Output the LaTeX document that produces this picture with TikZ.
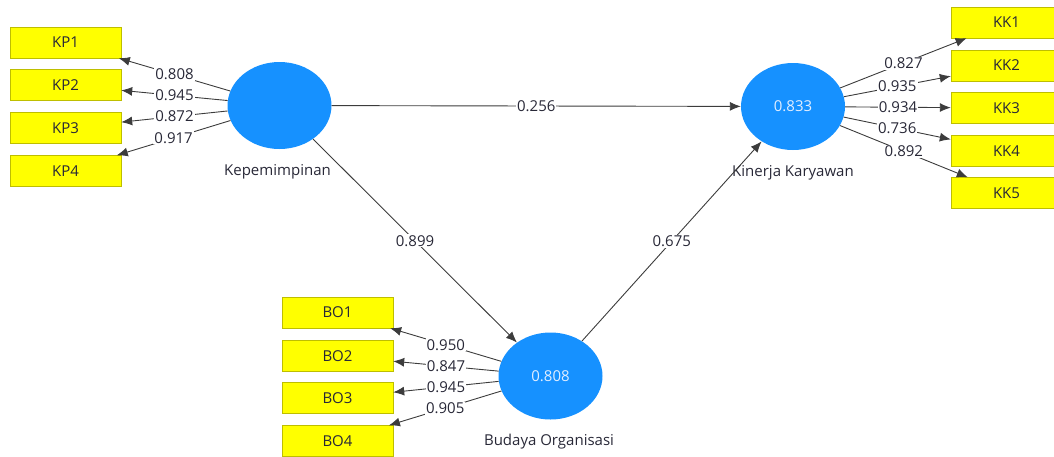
\documentclass[tikz,border=0pt]{standalone}
\usepackage{fontspec}
\setmainfont{Open Sans}
\usetikzlibrary{shapes.geometric,arrows.meta}
\definecolor{lvblue}{RGB}{22,145,255}
\definecolor{lvtext}{RGB}{225,238,255}
\definecolor{indyellow}{RGB}{255,255,0}
\definecolor{indborder}{RGB}{190,190,0}
\definecolor{txt}{RGB}{40,40,55}
\definecolor{edge}{RGB}{60,60,60}
\tikzset{
  ind/.style={draw=indborder, fill=indyellow, minimum width=111pt, minimum height=31pt, inner sep=0pt, text=txt},
  lv/.style={ellipse, fill=lvblue, minimum width=104pt, minimum height=87pt, inner sep=0pt, text=lvtext},
  link/.style={draw=edge, line width=0.9pt, -{Latex[length=11pt,width=9pt]}},
  coef/.style={fill=white, inner sep=1pt, text=txt, midway}
}
\begin{document}
\begin{tikzpicture}[x=1pt,y=-1pt,font=\fontsize{15}{18}\selectfont]
    \clip (0,0) rectangle (1054,456);
    % latent variables
    \node[lv] (kep) at (279.5,105.5) {};
    \node[lv] (kin) at (793,106.5) {0.833};
    \node[lv] (bud) at (550.5,376) {0.808};
    \node[text=txt] (kepname) at (277.5,172) {Kepemimpinan};
    \node[text=txt] (kinname) at (793,172.5) {Kinerja Karyawan};
    \node[text=txt] (budname) at (549,441.5) {Budaya Organisasi};
    % indicators
    \foreach \n/\y in {1/42.5,2/85,3/128,4/171}
        \node[ind] (kp\n) at (65.5,\y) {KP\n};
    \foreach \n/\y in {1/22.5,2/65.5,3/108,4/151,5/193}
        \node[ind] (kk\n) at (1006.5,\y) {KK\n};
    \foreach \n/\y in {1/312.5,2/356,3/398,4/441}
        \node[ind] (bo\n) at (337.5,\y) {BO\n};
    % outer loadings
    \foreach \n/\v in {1/0.808,2/0.945,3/0.872,4/0.917}
        \draw[link] (kep) -- node[coef] {\v} (kp\n);
    \foreach \n/\v in {1/0.827,2/0.935,3/0.934,4/0.736,5/0.892}
        \draw[link] (kin) -- node[coef] {\v} (kk\n);
    \foreach \n/\v in {1/0.950,2/0.847,3/0.945,4/0.905}
        \draw[link] (bud) -- node[coef] {\v} (bo\n);
    % path coefficients
    \draw[link] (kep) -- node[coef] {0.256} (kin);
    \draw[link] (kep) -- node[coef] {0.899} (bud);
    \draw[link] (bud) -- node[coef] {0.675} (kin);
\end{tikzpicture}
\end{document}
